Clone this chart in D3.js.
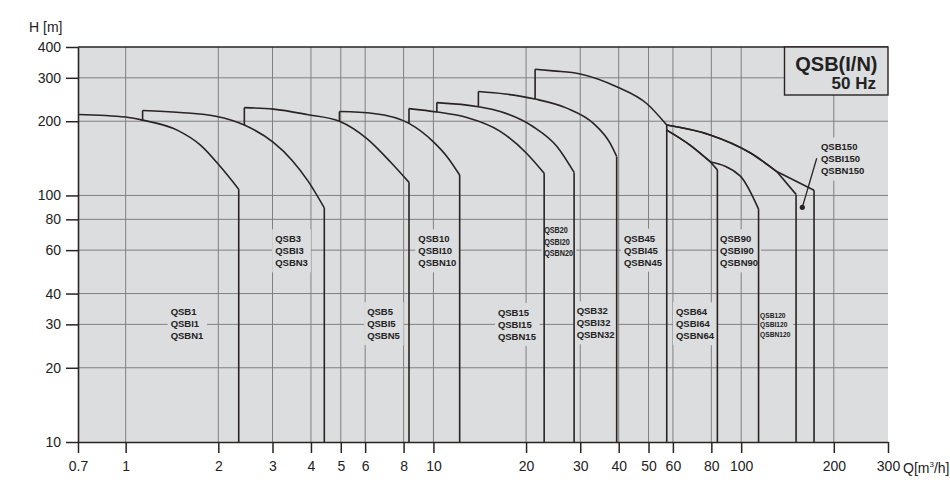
<!DOCTYPE html>
<html>
<head>
<meta charset="utf-8">
<script src="https://cdn.jsdelivr.net/npm/d3@7"></script>
<style>
  body { margin: 0; background: #fff; }
  text { font-family: Arial, "Liberation Sans", sans-serif; }
</style>
</head>
<body>
<svg width="950" height="500"></svg>
<script>
const xTicks = [0.7, 1, 2, 3, 4, 5, 6, 8, 10, 20, 30, 40, 50, 60, 80, 100, 200, 300];
const yTicks = [10, 20, 30, 40, 60, 80, 100, 200, 300, 400];
const xGrid = [1, 2, 3, 4, 5, 6, 8, 10, 20, 30, 40, 50, 60, 80, 100, 200];
const yGrid = [20, 30, 40, 60, 80, 100, 200, 300];

// pump curves, [Q m3/h, H m]; pieces join at their ends
const qsb1 = [[[0.7, 213], [1.0, 208], [1.135, 202], [1.47, 184], [1.75, 160], [2.03, 131], [2.33, 106]]];
const qsb3 = [[[1.135, 221], [1.5, 217], [1.98, 209], [2.43, 193], [3.02, 164], [3.47, 139], [3.92, 114], [4.42, 89]]];
const qsb5 = [[[2.43, 227], [3.02, 224], [3.88, 213], [4.95, 200], [6.08, 170], [7.24, 137], [8.33, 113]]];
const qsb10 = [[[4.95, 219], [6.39, 215], [8.33, 196], [10.0, 165], [11.06, 144], [12.17, 121]]];
const qsb15 = [[[8.33, 225], [10.26, 218], [12.84, 207], [16.48, 182], [20.1, 148], [22.9, 123]]];
const qsb20 = [[[10.26, 238], [14.0, 229], [16.48, 219], [21.1, 190], [25.2, 158], [28.65, 124]]];
const qsb32 = [[[14.0, 264], [17.1, 258], [21.4, 246], [27.1, 226], [33.1, 196], [37.5, 163], [39.4, 144]]];
const qsb45 = [[[21.4, 325], [24.5, 320], [30.0, 311], [39.4, 276], [49.3, 236], [57.3, 193]]];
const qsb64 = [[[57.3, 184], [68.2, 160], [79.3, 137]], [[79.3, 137], [83.7, 127]]];
const qsb90 = [[[57.3, 184], [68.2, 160], [79.3, 137]], [[79.3, 137], [99.2, 120], [113.9, 88]]];
const qsb120 = [[[57.3, 193], [79.3, 176], [106.9, 149], [130.5, 125]], [[130.5, 125], [150.8, 101]]];
const qsb150 = [[[57.3, 193], [79.3, 176], [106.9, 149], [130.5, 125]], [[130.5, 125], [172.5, 105]]];

const models = ["QSB1", "QSB3", "QSB5", "QSB10", "QSB15", "QSB20", "QSB32", "QSB45", "QSB64", "QSB90", "QSB120", "QSB150"];
const curves = [qsb1, qsb3, qsb5, qsb10, qsb15, qsb20, qsb32, qsb45, qsb64, qsb90, qsb120, qsb150];
// head where the riser leaves the previous curve
const riserBase = [null, 202, 193, 200, 196, 218, 229, 246, null, null, null, null];

// where the model names sit (Q, H of first line)
const labelQ = [1.4, 3.06, 6.09, 8.93, 16.2, 22.9, 29.2, 41.6, 61.4, 85.4, 115.2, 181.7];
const labelH = [33.7, 66.6, 33.7, 66.6, 33.5, 72.4, 34, 67, 33.7, 66.6, 32.7, 157];
const pointer150 = [[158, 89.5], [176, 141.5]];

const bg = "#dcdddf", ink = "#2a2321", gridCol = "#808080";

const svg = d3.select("svg");
const x = d3.scaleLog().domain([0.7, 300]).range([78, 888]);
const y = d3.scaleLog().domain([10, 400]).range([442, 47]);

svg.append("rect")
    .attr("x", x(0.7)).attr("y", y(400))
    .attr("width", x(300) - x(0.7)).attr("height", y(10) - y(400))
    .attr("fill", bg);

const grid = svg.append("g").attr("stroke", gridCol).attr("stroke-width", 1);
grid.selectAll("line.v").data(xGrid).enter().append("line")
    .attr("class", "v")
    .attr("x1", d => x(d)).attr("x2", d => x(d))
    .attr("y1", y(400)).attr("y2", y(10));
grid.selectAll("line.h").data(yGrid).enter().append("line")
    .attr("class", "h")
    .attr("x1", x(0.7)).attr("x2", x(300))
    .attr("y1", d => y(d)).attr("y2", d => y(d));

// model labels with a patch of background behind them
const small = {QSB20: [8.4, 11.7, 0.86], QSB120: [7.4, 9.5, 0.9]};
models.forEach((m, i) => {
    const [fs, lh, sx] = small[m] || [9.5, 12, 1];
    const g = svg.append("g")
        .attr("transform", `translate(${x(labelQ[i])},${y(labelH[i])}) scale(${sx},1)`);
    const lines = [m, m.replace("QSB", "QSBI"), m.replace("QSB", "QSBN")];
    g.selectAll("text").data(lines).enter().append("text")
        .attr("x", 0)
        .attr("y", (d, k) => k * lh + fs * 0.35)
        .attr("font-size", fs)
        .attr("font-weight", "bold")
        .attr("fill", "#222")
        .text(d => d);
    const b = g.node().getBBox();
    g.insert("rect", "text")
        .attr("x", b.x - 3).attr("y", b.y - 4)
        .attr("width", b.width + 6).attr("height", b.height + 8)
        .attr("fill", bg);
});

// curves
const smooth = d3.line().x(d => x(d[0])).y(d => y(d[1])).curve(d3.curveMonotoneX);
const cg = svg.append("g").attr("fill", "none").attr("stroke", ink)
    .attr("stroke-width", 1.6).attr("stroke-linejoin", "round");
curves.forEach((pieces, i) => {
    const first = pieces[0][0];
    const lastPiece = pieces[pieces.length - 1];
    const last = lastPiece[lastPiece.length - 1];
    if (riserBase[i] !== null) {
        cg.append("line")
            .attr("x1", x(first[0])).attr("x2", x(first[0]))
            .attr("y1", y(riserBase[i])).attr("y2", y(first[1]));
    }
    pieces.forEach(p => cg.append("path").attr("d", smooth(p)));
    cg.append("line")
        .attr("x1", x(last[0])).attr("x2", x(last[0]))
        .attr("y1", y(last[1])).attr("y2", y(10));
});

// pointer for QSB150
svg.append("line")
    .attr("x1", x(pointer150[0][0])).attr("y1", y(pointer150[0][1]))
    .attr("x2", x(pointer150[1][0])).attr("y2", y(pointer150[1][1]))
    .attr("stroke", ink).attr("stroke-width", 1.3);
svg.append("circle")
    .attr("cx", x(pointer150[0][0])).attr("cy", y(pointer150[0][1]))
    .attr("r", 2.6).attr("fill", ink);

// axes
const fmt = d3.format("");
const yAxis = svg.append("g").attr("transform", `translate(${x(0.7)},0)`)
    .call(d3.axisLeft(y).tickValues(yTicks).tickFormat(fmt).tickSize(12).tickSizeOuter(0).tickPadding(5));
const xAxis = svg.append("g").attr("transform", `translate(0,${y(10)})`)
    .call(d3.axisBottom(x).tickValues(xTicks).tickFormat(fmt).tickSize(11).tickSizeOuter(0).tickPadding(8));
[yAxis, xAxis].forEach(a => {
    a.select(".domain").attr("stroke", ink).attr("stroke-width", 1.6);
    a.selectAll(".tick line").attr("stroke", ink).attr("stroke-width", 1.5);
    a.selectAll(".tick text").attr("font-size", 14).attr("fill", "#222")
        .attr("font-family", 'Arial, "Liberation Sans", sans-serif');
});

svg.append("line")
    .attr("x1", x(0.7)).attr("x2", x(300))
    .attr("y1", y(400)).attr("y2", y(400))
    .attr("stroke", ink).attr("stroke-width", 1.6);

svg.append("text").attr("x", 29).attr("y", 31.5).attr("font-size", 14).attr("fill", "#222")
    .text("H [m]");
const ql = svg.append("text").attr("x", 903).attr("y", 473.3).attr("font-size", 14).attr("fill", "#222");
ql.append("tspan").text("Q[m");
ql.append("tspan").attr("font-size", 8).attr("dy", -6).text("3");
ql.append("tspan").attr("dy", 6).text("/h]");

// title box
svg.append("rect")
    .attr("x", 784.5).attr("y", y(400))
    .attr("width", x(300) - 784.5).attr("height", 95 - y(400))
    .attr("fill", bg).attr("stroke", ink).attr("stroke-width", 1.4);
svg.append("text").attr("x", 877.5).attr("y", 70.5).attr("text-anchor", "end")
    .attr("font-size", 20).attr("font-weight", "bold").attr("fill", "#222").text("QSB(I/N)");
svg.append("text").attr("x", 876).attr("y", 89.3).attr("text-anchor", "end")
    .attr("font-size", 17).attr("font-weight", "bold").attr("fill", "#222").text("50 Hz");
</script>
</body>
</html>
